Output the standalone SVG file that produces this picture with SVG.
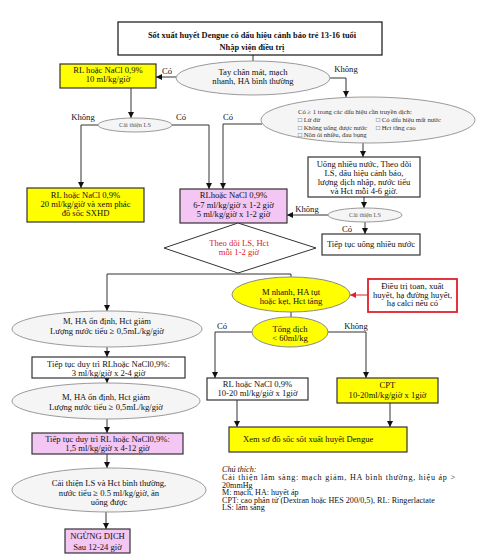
<svg xmlns="http://www.w3.org/2000/svg" width="483" height="560" viewBox="0 0 483 560">
<defs>
<marker id="ah" markerUnits="userSpaceOnUse" markerWidth="6" markerHeight="6" refX="6" refY="3" orient="auto"><path d="M0,0 L6,3 L0,6 z" fill="#111"/></marker>
<marker id="ahr" markerUnits="userSpaceOnUse" markerWidth="6" markerHeight="6" refX="6" refY="3" orient="auto"><path d="M0,0 L6,3 L0,6 z" fill="#e0202a"/></marker>
</defs>
<style>
text{font-family:"Liberation Serif","Times New Roman",serif;font-size:8.6px;fill:#111}
.c{text-anchor:middle}
.t{font-weight:bold;font-size:8.4px}
.s{font-size:6.7px;fill:#333}
.g{font-size:6.3px;fill:#555}
.r{fill:#e0202a}
.lg{font-size:8.1px}
.box{fill:#fff;stroke:#333;stroke-width:1.2}
.yel{fill:#ffff00;stroke:#333;stroke-width:1.2}
.pink{fill:#f3c6f3;stroke:#333;stroke-width:1.2}
.ell{fill:#f5f5f5;stroke:#9a9a9a;stroke-width:1}
.yell{fill:#ffff00;stroke:#8a8a8a;stroke-width:1}
.ln{fill:none;stroke:#333;stroke-width:1}
.lna{fill:none;stroke:#333;stroke-width:1;marker-end:url(#ah)}
</style>
<rect width="483" height="560" fill="#fff"/>

<g id="connectors">
<path class="ln" d="M253,55 V61"/>
<path class="lna" d="M176,77 H156"/>
<path class="lna" d="M330,78 H346 V97"/>
<path class="lna" d="M131,88 V118"/>
<path class="lna" d="M98,125 H81 V188"/>
<path class="lna" d="M172,125 H209 V189"/>
<path class="lna" d="M262,124 H223 V189"/>
<path class="lna" d="M363,143 V157"/>
<path class="lna" d="M364,197 V208"/>
<path class="lna" d="M328,215 H287"/>
<path class="lna" d="M365,222 V234"/>
<path class="ln" d="M107,274 H291 V277"/>
<path class="lna" d="M107,274 V311"/>
<path class="ln" d="M291,312 V317"/>
<path fill="none" stroke="#e0202a" stroke-width="1" marker-end="url(#ahr)" d="M368,295 H350"/>
<path class="lna" d="M252,332 H215 V378"/>
<path class="lna" d="M328,332 H366 V378"/>
<path class="lna" d="M237,400 V427"/>
<path class="lna" d="M390,403 V427"/>
<path class="lna" d="M107,347 V357"/>
<path class="lna" d="M107,378 V383"/>
<path class="lna" d="M107,419 V433"/>
<path class="lna" d="M107,454 V468"/>
<path class="lna" d="M106,512 V529"/>
</g>

<g id="labels">
<text class="c" x="167" y="74">Có</text>
<text class="c" x="346" y="72">Không</text>
<text class="c" x="83" y="120">Không</text>
<text class="c" x="181" y="120">Có</text>
<text class="c" x="228" y="120">Có</text>
<text class="c" x="307" y="212">Không</text>
<text class="c" x="347" y="232">Có</text>
<text class="c" x="222" y="329">Có</text>
<text class="c" x="356" y="329">Không</text>
</g>

<g id="title">
<rect class="box" x="118" y="22" width="264" height="33" style="stroke:#111"/>
<text class="c t" x="252" y="38">Sốt xuất huyết Dengue có dấu hiệu cảnh báo trẻ 13-16 tuổi</text>
<text class="c t" x="252" y="50">Nhập viện điều trị</text>
</g>

<g id="n_rl10">
<rect class="yel" x="60" y="64" width="96" height="24"/>
<text class="c" x="108" y="73">RL hoặc NaCl 0,9%</text>
<text class="c" x="108" y="82">10 ml/kg/giờ</text>
</g>

<g id="n_taychan">
<ellipse class="ell" cx="253" cy="78" rx="77" ry="17"/>
<text class="c" x="253" y="75">Tay chân mát, mạch</text>
<text class="c" x="253" y="84">nhanh, HA bình thường</text>
</g>

<g id="n_dauhieu">
<ellipse class="ell" cx="368" cy="120" rx="107" ry="23"/>
<text class="s" x="298" y="114">Có ≥ 1 trong các dấu hiệu cần truyền dịch:</text>
<text class="s" x="298" y="122">□ Lừ đừ</text>
<text class="s" x="376" y="122">□ Có dấu hiệu mất nước</text>
<text class="s" x="298" y="129.5">□ Không uống được nước</text>
<text class="s" x="376" y="129.5">□ Hct tăng cao</text>
<text class="s" x="298" y="137">□ Nôn ói nhiều, đau bụng</text>
</g>

<g id="n_caithien1">
<ellipse class="ell" cx="135" cy="125" rx="37" ry="7"/>
<text class="c g" x="135" y="127.2">Cải thiện LS</text>
</g>

<g id="n_rl20">
<rect class="yel" x="27" y="188" width="117" height="34"/>
<text class="c" x="85.5" y="198">RL hoặc NaCl 0,9%</text>
<text class="c" x="85.5" y="207">20 ml/kg/giờ và xem phác</text>
<text class="c" x="85.5" y="216">đồ sốc SXHD</text>
</g>

<g id="n_rl67">
<rect class="pink" x="180" y="189" width="107" height="34"/>
<text class="c" x="233.5" y="198">RLhoặc NaCl 0,9%</text>
<text class="c" x="233.5" y="207.5">6-7 ml/kg/giờ x 1-2 giờ</text>
<text class="c" x="233.5" y="217">5 ml/kg/giờ x 1-2 giờ</text>
</g>

<g id="n_uong">
<rect class="box" x="308" y="157" width="112" height="40"/>
<text class="c" x="364" y="167">Uống nhiều nước, Theo dõi</text>
<text class="c" x="364" y="176">LS, dấu hiệu cảnh báo,</text>
<text class="c" x="364" y="185">lượng dịch nhập, nước tiểu</text>
<text class="c" x="364" y="194">và Hct mỗi 4-6 giờ.</text>
</g>

<g id="n_caithien2">
<ellipse class="ell" cx="365" cy="215" rx="37" ry="7"/>
<text class="c g" x="365" y="217.2">Cải thiện LS</text>
</g>

<g id="n_tieptuc">
<rect class="box" x="322" y="234" width="98" height="21"/>
<text class="c" x="371" y="247">Tiếp tục uống nhiều nước</text>
</g>

<g id="n_theodoi">
<polygon points="238,223 316,248 238,273 164,248" fill="#fff" stroke="#333" stroke-width="1"/>
<text class="c r" x="239" y="246">Theo dõi LS, Hct</text>
<text class="c r" x="239" y="255">mỗi 1-2 giờ</text>
</g>

<g id="n_mnhanh">
<ellipse class="yell" cx="291" cy="294.5" rx="59" ry="17.5"/>
<text class="c" x="291" y="295">M nhanh, HA tụt</text>
<text class="c" x="291" y="304">hoặc kẹt, Hct tăng</text>
</g>

<g id="n_dieutri">
<rect x="368" y="279" width="89" height="33" fill="#fff" stroke="#e0202a" stroke-width="1.8"/>
<text class="c" x="412.5" y="289">Điều trị toan, xuất</text>
<text class="c" x="412.5" y="297.5">huyết, hạ đường huyết,</text>
<text class="c" x="412.5" y="306">hạ calci nếu có</text>
</g>

<g id="n_tongdich">
<ellipse class="yell" cx="290" cy="332" rx="38" ry="15"/>
<text class="c" x="290" y="332">Tổng dịch</text>
<text class="c" x="290" y="341">&lt; 60ml/kg</text>
</g>

<g id="n_rl1020">
<rect class="box" x="207" y="378" width="101" height="22"/>
<text class="c" x="257.5" y="387">RL hoặc NaCl 0,9%</text>
<text class="c" x="257.5" y="396">10-20 ml/kg/giờ x 1giờ</text>
</g>

<g id="n_cpt">
<rect class="yel" x="337" y="378" width="101" height="25"/>
<text class="c" x="387.5" y="388">CPT</text>
<text class="c" x="387.5" y="398">10-20ml/kg/giờ x 1giờ</text>
</g>

<g id="n_xem">
<rect class="yel" x="229" y="427" width="178" height="25"/>
<text x="243" y="442">Xem sơ đồ sốc sốt xuất huyết Dengue</text>
</g>

<g id="n_onDinh1">
<ellipse class="ell" cx="107" cy="329" rx="95" ry="18"/>
<text class="c" x="107" y="324">M, HA ổn định, Hct giảm</text>
<text class="c" x="107" y="334">Lượng nước tiểu ≥ 0,5mL/kg/giờ</text>
</g>

<g id="n_duytri3">
<rect class="box" x="32" y="357" width="153" height="21"/>
<text class="c" x="108.5" y="367">Tiếp tục duy trì RLhoặc NaCl0,9%:</text>
<text class="c" x="108.5" y="376">3 ml/kg/giờ x 2-4 giờ</text>
</g>

<g id="n_onDinh2">
<ellipse class="ell" cx="106" cy="401" rx="94" ry="18"/>
<text class="c" x="106" y="400">M, HA ổn định, Hct giảm</text>
<text class="c" x="106" y="410">Lượng nước tiểu ≥ 0,5mL/kg/giờ</text>
</g>

<g id="n_duytri15">
<rect class="pink" x="32" y="433" width="151" height="21"/>
<text class="c" x="107.5" y="442">Tiếp tục duy trì RL hoặc NaCl0,9%:</text>
<text class="c" x="107.5" y="451">1,5 ml/kg/giờ x 4-12 giờ</text>
</g>

<g id="n_caithien3">
<ellipse class="ell" cx="109" cy="490" rx="97" ry="22"/>
<text class="c" x="109" y="486">Cải thiện LS và Hct bình thường,</text>
<text class="c" x="109" y="496">nước tiểu ≥ 0.5 ml/kg/giờ, ăn</text>
<text class="c" x="109" y="505">uống được</text>
</g>

<g id="n_ngung">
<rect class="pink" x="65" y="529" width="65" height="24"/>
<text class="c" x="97.5" y="539">NGỪNG DỊCH</text>
<text class="c" x="97.5" y="550">Sau 12-24 giờ</text>
</g>

<g id="legend">
<text class="lg" x="222" y="472" font-style="italic">Chú thích:</text>
<text class="lg" x="222" y="480" textLength="233" lengthAdjust="spacing">Cải thiện lâm sàng: mạch giảm, HA bình thường, hiệu áp &gt;</text>
<text class="lg" x="222" y="487.5">20mmHg</text>
<text class="lg" x="222" y="495">M: mạch, HA: huyết áp</text>
<text class="lg" x="222" y="502.5">CPT: cao phân tử (Dextran hoặc HES 200/0,5), RL: Ringerlactate</text>
<text class="lg" x="222" y="510">LS: lâm sàng</text>
</g>
</svg>
